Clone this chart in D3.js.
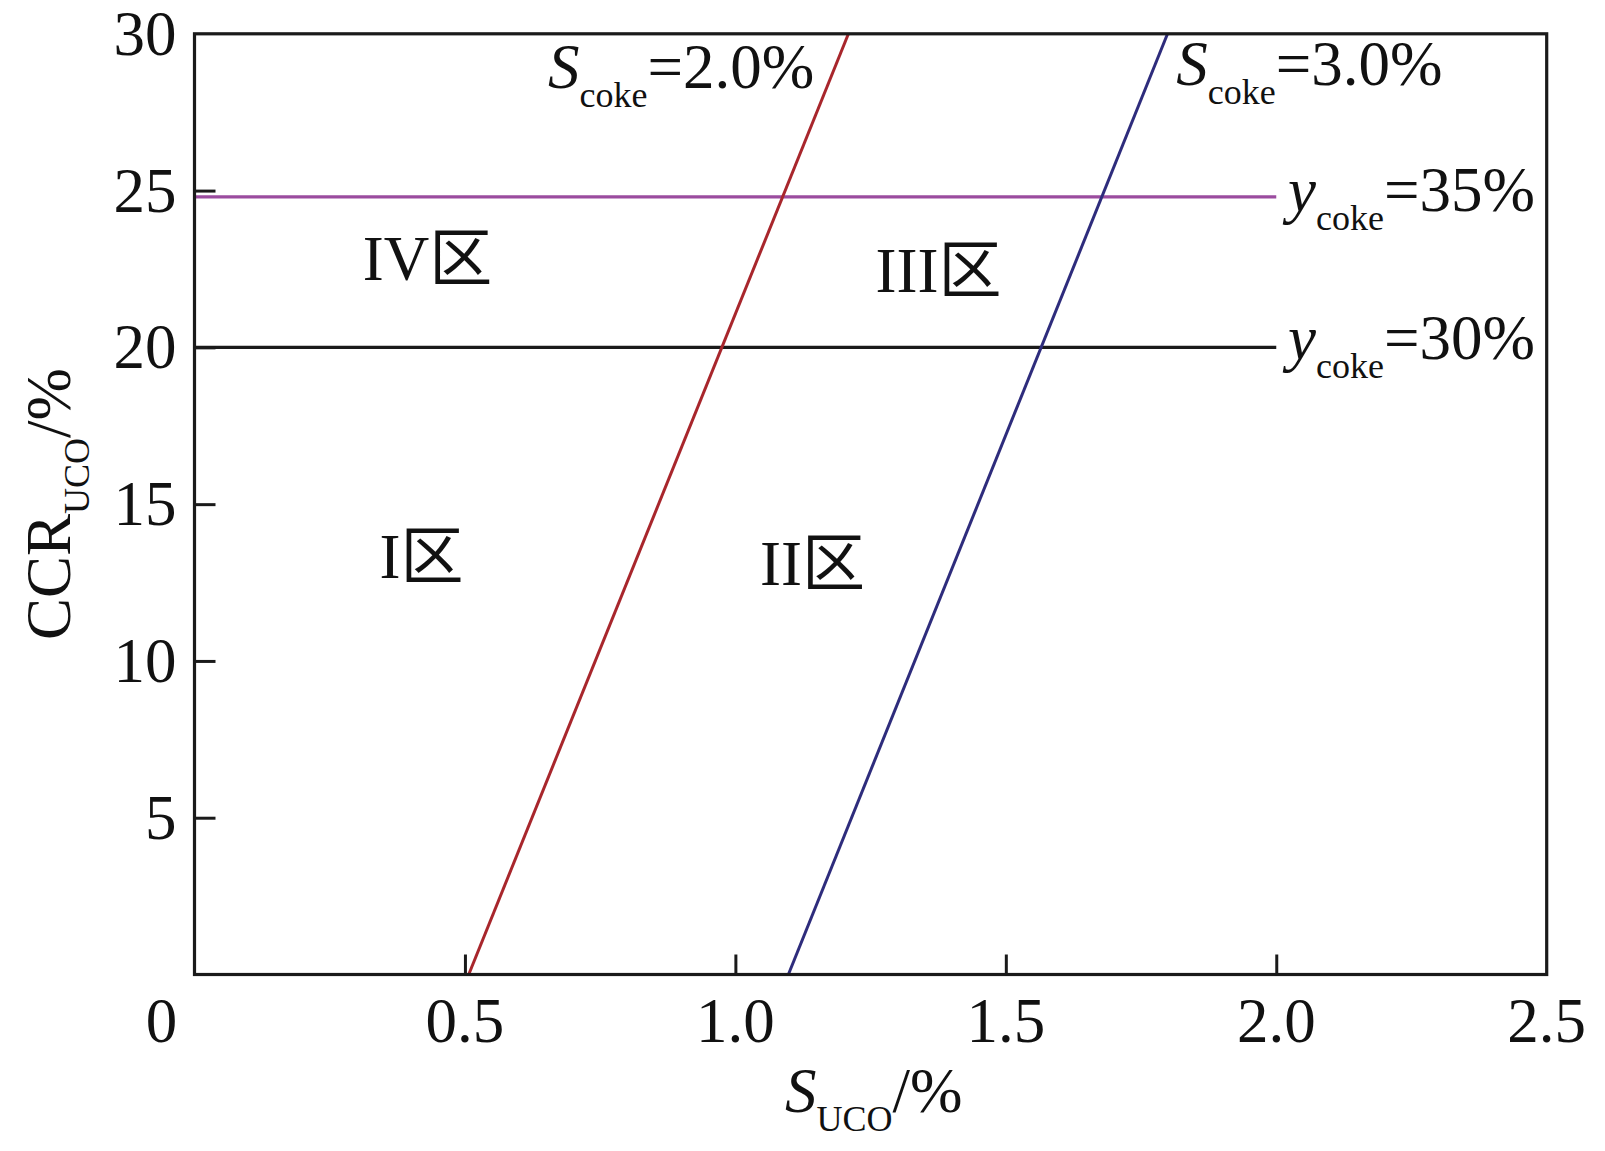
<!DOCTYPE html>
<html>
<head>
<meta charset="utf-8">
<script src="https://cdn.jsdelivr.net/npm/d3@7"></script>
<style>
  html, body { margin: 0; padding: 0; background: #fff; }
  svg { display: block; }
  text { font-family: "Liberation Serif", "Noto Sans CJK SC", serif; fill: #111; }
</style>
</head>
<body>
<svg id="chart" width="1605" height="1151"></svg>
<script>
// ---------- data ----------
const xTicks = [0.5, 1.0, 1.5, 2.0];
const xTickLabels = ["0", "0.5", "1.0", "1.5", "2.0", "2.5"];
const xLabelValues = [0, 0.5, 1.0, 1.5, 2.0, 2.5];
const yTicks = [5, 10, 15, 20, 25];
const yLabelValues = [5, 10, 15, 20, 25, 30];

// S_coke iso-lines: S_UCO at CCR = 0 and CCR = 30
const scoke20 = [{s: 0.507, ccr: 0}, {s: 1.209, ccr: 30}];
const scoke30 = [{s: 1.098, ccr: 0}, {s: 1.799, ccr: 30}];
// y_coke iso-lines (horizontal)
const ycoke35 = [{s: 0, ccr: 24.8}, {s: 2.0, ccr: 24.8}];
const ycoke30 = [{s: 0, ccr: 20.0}, {s: 2.0, ccr: 20.0}];

// annotations (data units)
const lineLabels = [
  {main: "S", italic: true, sub: "coke", rest: "=2.0%", s: 0.6536, ccr: 28.27},
  {main: "S", italic: true, sub: "coke", rest: "=3.0%", s: 1.815, ccr: 28.37},
  {main: "y", italic: true, sub: "coke", rest: "=35%", s: 2.0217, ccr: 24.35},
  {main: "y", italic: true, sub: "coke", rest: "=30%", s: 2.0217, ccr: 19.63}
];
const regionLabels = [
  {text: "IV区", s: 0.4308, ccr: 22.15},
  {text: "III区", s: 1.3755, ccr: 21.77},
  {text: "I区", s: 0.4197, ccr: 12.65},
  {text: "II区", s: 1.1426, ccr: 12.43}
];

// ---------- layout ----------
const L = 194.5, R = 1546.7, T = 33.8, B = 974.5;
const FS = 63, SUB = 36, SUBDY = 19;

const svg = d3.select("#chart");
const x = d3.scaleLinear().domain([0, 2.5]).range([L, R]);
const y = d3.scaleLinear().domain([0, 30]).range([B, T]);

const axisColor = "#1a1a1a";

// data lines
const line = d3.line().x(d => x(d.s)).y(d => y(d.ccr));
svg.append("path").datum(ycoke35).attr("d", line)
  .attr("fill", "none").attr("stroke", "#9b4c9f").attr("stroke-width", 3.2);
svg.append("path").datum(ycoke30).attr("d", line)
  .attr("fill", "none").attr("stroke", "#1a1a1a").attr("stroke-width", 3.2);
svg.append("path").datum(scoke20).attr("d", line)
  .attr("fill", "none").attr("stroke", "#a8262c").attr("stroke-width", 3);
svg.append("path").datum(scoke30).attr("d", line)
  .attr("fill", "none").attr("stroke", "#2e2c7c").attr("stroke-width", 3);

// axes: ticks inward
const xAxis = d3.axisBottom(x).tickValues(xTicks).tickSize(-20).tickFormat("");
const gx = svg.append("g").attr("transform", `translate(0,${B})`).call(xAxis);
gx.select(".domain").remove();
gx.selectAll(".tick line").attr("stroke", axisColor).attr("stroke-width", 3);

const yAxis = d3.axisLeft(y).tickValues(yTicks).tickSize(-21).tickFormat("");
const gy = svg.append("g").attr("transform", `translate(${L},0)`).call(yAxis);
gy.select(".domain").remove();
gy.selectAll(".tick line").attr("stroke", axisColor).attr("stroke-width", 3);

// frame
svg.append("rect").attr("x", L).attr("y", T).attr("width", R - L).attr("height", B - T)
  .attr("fill", "none").attr("stroke", axisColor).attr("stroke-width", 3.2);

// x tick labels
svg.append("g").selectAll("text").data(xLabelValues).join("text")
  .attr("x", (d, i) => x(d) + (i === 0 ? -33 : 0))
  .attr("y", B + 67)
  .attr("text-anchor", "middle")
  .attr("font-size", FS)
  .text((d, i) => xTickLabels[i]);

// y tick labels
svg.append("g").selectAll("text").data(yLabelValues).join("text")
  .attr("x", L - 18)
  .attr("y", d => y(d) + 21)
  .attr("text-anchor", "end")
  .attr("font-size", FS)
  .text(d => d);

// axis titles
const xt = svg.append("text").attr("x", 785).attr("y", 1112).attr("font-size", FS);
xt.append("tspan").attr("font-style", "italic").text("S");
xt.append("tspan").attr("font-size", SUB).attr("dy", SUBDY).text("UCO");
xt.append("tspan").attr("dy", -SUBDY).text("/%");

const yt = svg.append("text").attr("transform", "translate(70,640) rotate(-90)").attr("font-size", FS);
yt.append("tspan").text("CCR");
yt.append("tspan").attr("font-size", SUB).attr("dy", SUBDY).text("UCO");
yt.append("tspan").attr("dy", -SUBDY).text("/%");

// line labels
lineLabels.forEach(d => {
  const t = svg.append("text").attr("x", x(d.s)).attr("y", y(d.ccr)).attr("font-size", FS);
  t.append("tspan").attr("font-style", d.italic ? "italic" : "normal").text(d.main);
  t.append("tspan").attr("font-size", SUB).attr("dy", SUBDY).text(d.sub);
  t.append("tspan").attr("dy", -SUBDY).text(d.rest);
});

// region labels
svg.append("g").selectAll("text").data(regionLabels).join("text")
  .attr("x", d => x(d.s)).attr("y", d => y(d.ccr))
  .attr("text-anchor", "middle").attr("font-size", FS)
  .text(d => d.text);
</script>
</body>
</html>
